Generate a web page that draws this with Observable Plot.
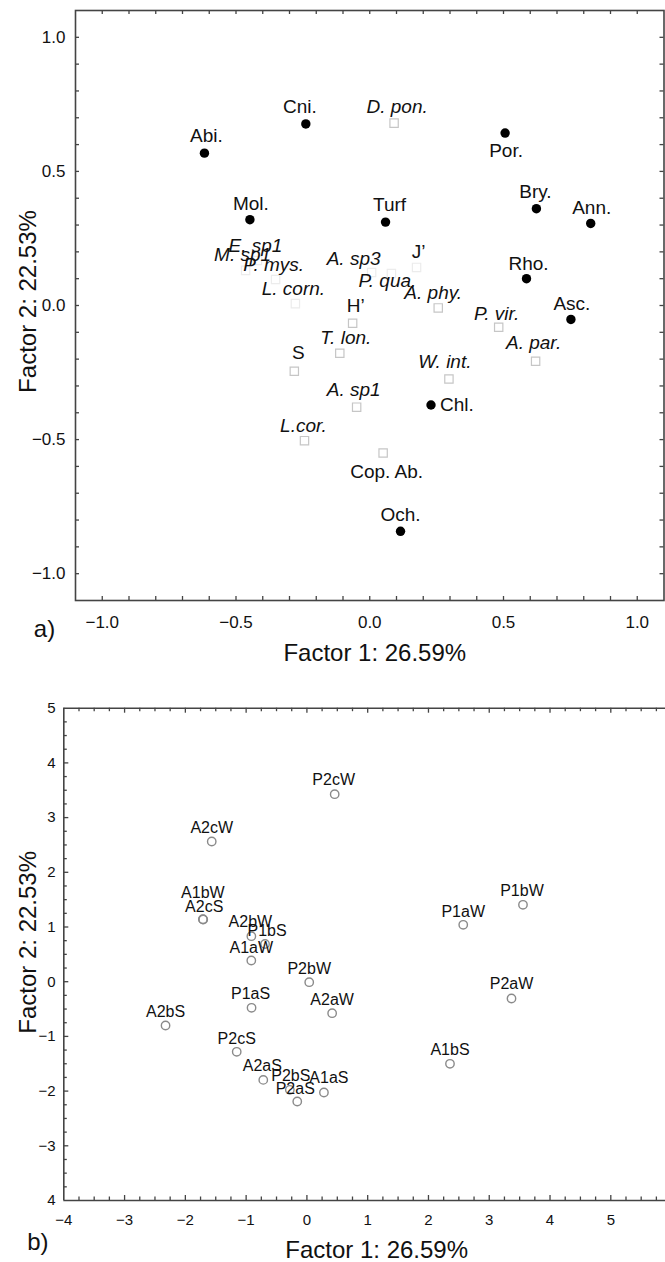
<!DOCTYPE html>
<html>
<head>
<meta charset="utf-8">
<script src="https://cdn.jsdelivr.net/npm/d3@7"></script>
<script src="https://cdn.jsdelivr.net/npm/@observablehq/plot@0.6"></script>
<style>
  html, body { margin: 0; padding: 0; background: #fff; overflow: hidden; }
  #page { position: relative; width: 665px; height: 1262px; background: #fff; }
  #pa, #pb { position: absolute; left: 0; }
  #pa { top: 0; }
  #pb { top: 665px; }
</style>
</head>
<body>
<div id="page"><div id="pa"></div><div id="pb"></div></div>
<script>
// ================= DATA =================
// Panel a) — group variables (filled dots)
const groupNames = ["Abi.", "Cni.", "Por.", "Bry.", "Ann.", "Mol.", "Turf", "Rho.", "Asc.", "Chl.", "Och."];
const groupF1 = [-0.618, -0.239, 0.506, 0.623, 0.826, -0.448, 0.059, 0.586, 0.752, 0.229, 0.115];
const groupF2 = [0.568, 0.677, 0.643, 0.361, 0.306, 0.320, 0.311, 0.100, -0.052, -0.371, -0.842];

// Panel a) — taxa / indices (hollow squares)
const taxaNames = ["D. pon.", "A. phy.", "P. vir.", "A. par.", "W. int.", "H\u2019", "T. lon.", "S", "A. sp1", "L.cor.", "Cop. Ab.",
                   "A. sp3", "P. qua.", "J\u2019", "E. sp1", "M. sp1", "P. mys.", "L. corn."];
const taxaF1 = [0.091, 0.256, 0.482, 0.620, 0.296, -0.064, -0.112, -0.282, -0.049, -0.244, 0.050,
                0.007, 0.081, 0.175, -0.420, -0.464, -0.352, -0.278];
const taxaF2 = [0.680, -0.009, -0.081, -0.208, -0.274, -0.066, -0.178, -0.245, -0.379, -0.504, -0.550,
                0.123, 0.119, 0.142, 0.168, 0.131, 0.097, 0.007];

// Panel b) — samples (hollow circles)
const sampleNames = ["P2cW", "A2cW", "A1bW", "A2cS", "A2bW", "P1bS", "A1aW", "P1aW", "P1bW", "P2bW", "P2aW",
                     "P1aS", "A2aW", "A2bS", "P2cS", "A1bS", "A2aS", "P2bS", "A1aS", "P2aS"];
const sampleF1 = [0.457, -1.566, -1.712, -1.706, -0.914, -0.689, -0.915, 2.572, 3.555, 0.038, 3.366,
                  -0.911, 0.415, -2.326, -1.155, 2.354, -0.718, -0.281, 0.280, -0.159];
const sampleF2 = [3.428, 2.563, 1.142, 1.137, 0.832, 0.689, 0.388, 1.040, 1.406, -0.009, -0.307,
                  -0.477, -0.576, -0.801, -1.282, -1.501, -1.795, -1.977, -2.026, -2.190];

// Tick values and labels
const ticksA = [-1, -0.5, 0, 0.5, 1];
const tickLabelsA = ["\u22121.0", "\u22120.5", "0.0", "0.5", "1.0"];
const xTicksB = [-4, -3, -2, -1, 0, 1, 2, 3, 4, 5];
const xTickLabelsB = ["\u22124", "\u22123", "\u22122", "\u22121", "0", "1", "2", "3", "4", "5"];
const yTicksB = [-4, -3, -2, -1, 0, 1, 2, 3, 4, 5];
const yTickLabelsB = ["4", "\u22123", "\u22122", "\u22121", "0", "1", "2", "3", "4", "5"];

const xTitle = "Factor 1: 26.59%";
const yTitle = "Factor 2: 22.53%";

// ================= LAYOUT (label offsets in px, styles — not data) =================
const groupLabelOff = [[2,-17],[-6,-17],[1,18],[-1,-17],[1,-16],[1,-16],[4,-17],[2,-15],[1,-16],[9,0],[0,-16]];
const taxaLabelOff = [[3,-16],[-5,-15],[-2,-13],[-2,-18],[-4,-17],[3,-17],[6,-15],[4,-18],[-3,-17],[-1,-15],[3.5,19],
                      [-18,-14],[-4,7],[2,-16],[-2,-15],[-3,-15],[-2,-15],[-2,-15]];
const faintTaxa = new Set(["A. sp3", "P. qua.", "J\u2019", "E. sp1", "M. sp1", "P. mys.", "L. corn."]);
const uprightTaxa = new Set(["H\u2019", "S", "Cop. Ab.", "J\u2019"]);
const sampleLabelOff = [[-1,-14],[0,-14],[0,-26],[1,-13],[-1,-14],[2,-13],[0,-12.5],[0,-13],[-1,-14],[0,-13.5],[0,-14.5],
                        [-1,-14],[0,-13.5],[0,-13.5],[0,-13],[0,-13.5],[-1,-14],[1,-14],[5,-15],[-2,-13]];

const FONT = "'Liberation Sans', Arial, Helvetica, sans-serif";
const INK = "#111";
const AXC = "#444";

const groups = groupNames.map((n, i) => ({name: n, f1: groupF1[i], f2: groupF2[i], off: groupLabelOff[i]}));
const taxa = taxaNames.map((n, i) => ({name: n, f1: taxaF1[i], f2: taxaF2[i], off: taxaLabelOff[i]}));
const samples = sampleNames.map((n, i) => ({name: n, f1: sampleF1[i], f2: sampleF2[i], off: sampleLabelOff[i]}));

const titleOpts = {text: d => d, textAnchor: "middle", lineAnchor: "middle", fontSize: 24, fill: INK};

// ================= PANEL A =================
(function () {
  const W = 665, H = 665, mT = 10, mB = 65, mL = 75, mR = 1.5;
  const fw = W - mL - mR, fh = H - mT - mB;
  const minor = d3.range(-10, 11).map(k => k / 10);
  const tl = 4;
  const labelMarks = [];
  taxa.forEach(d => labelMarks.push(Plot.text([d], {
    x: "f1", y: "f2", text: "name", dx: d.off[0], dy: d.off[1],
    fontStyle: uprightTaxa.has(d.name) ? "normal" : "italic", fontSize: 19, fill: INK
  })));
  groups.forEach(d => labelMarks.push(Plot.text([d], {
    x: "f1", y: "f2", text: "name", dx: d.off[0], dy: d.off[1],
    textAnchor: d.name === "Chl." ? "start" : "middle", fontSize: 19, fill: INK
  })));
  const svg = Plot.plot({
    width: W, height: H, marginTop: mT, marginBottom: mB, marginLeft: mL, marginRight: mR,
    x: {domain: [-1.1, 1.1]},
    y: {domain: [-1.1, 1.1]},
    style: {fontFamily: FONT, background: "#fff", color: INK, overflow: "visible"},
    marks: [
      Plot.ruleX(minor, {insetTop: fh - tl, stroke: AXC, strokeWidth: 1.3}),
      Plot.ruleX(minor, {insetBottom: fh - tl, stroke: AXC, strokeWidth: 1.3}),
      Plot.ruleY(minor, {insetRight: fw - tl, stroke: AXC, strokeWidth: 1.3}),
      Plot.ruleY(minor, {insetLeft: fw - tl, stroke: AXC, strokeWidth: 1.3}),
      Plot.frame({stroke: AXC, strokeWidth: 1.6}),
      Plot.axisX(ticksA, {anchor: "bottom", tickSize: 0, tickPadding: 15, fontSize: 17, label: null,
        tickFormat: d => tickLabelsA[ticksA.indexOf(d)]}),
      Plot.axisY(ticksA, {anchor: "left", tickSize: 0, tickPadding: 10, fontSize: 17, label: null,
        tickFormat: d => tickLabelsA[ticksA.indexOf(d)]}),
      Plot.dot(taxa, {x: "f1", y: "f2", symbol: "square", r: 4.7, fill: "none",
        stroke: d => faintTaxa.has(d.name) ? "#ececec" : "#c6c6c6", strokeWidth: 1.2}),
      Plot.dot(groups, {x: "f1", y: "f2", r: 4.7, fill: "#000", stroke: "none"}),
      ...labelMarks,
      Plot.text([xTitle], {...titleOpts, frameAnchor: "bottom", dx: 5, dy: 53}),
      Plot.text([yTitle], {...titleOpts, frameAnchor: "left", dx: -47, dy: -4, rotate: -90}),
      Plot.text(["a)"], {...titleOpts, frameAnchor: "bottom-left", dx: -31, dy: 29})
    ]
  });
  document.getElementById("pa").appendChild(svg);
})();

// ================= PANEL B =================
(function () {
  const W = 665, H = 597, mT = 42.7, mB = 62, mL = 63.3, mR = 0;
  const fw = W - mL - mR, fh = H - mT - mB;
  const xq = d3.range(-15, 24).map(k => k / 4);   // quarter-unit ticks
  const yq = d3.range(-15, 20).map(k => k / 4);
  const xMaj = xq.filter(v => Number.isInteger(v));
  const xMin = xq.filter(v => !Number.isInteger(v));
  const yMaj = yq.filter(v => Number.isInteger(v));
  const yMin = yq.filter(v => !Number.isInteger(v));
  const tMin = 3.5, tMaj = 5;
  const labelMarks = samples.map(d => Plot.text([d], {
    x: "f1", y: "f2", text: "name", dx: d.off[0], dy: d.off[1], fontSize: 16, fill: INK
  }));
  const svg = Plot.plot({
    width: W, height: H, marginTop: mT, marginBottom: mB, marginLeft: mL, marginRight: mR,
    x: {domain: [-4, 5.9]},
    y: {domain: [-4, 5]},
    style: {fontFamily: FONT, background: "#fff", color: INK, overflow: "visible"},
    marks: [
      Plot.ruleX(xMin, {insetTop: fh - tMin, stroke: AXC, strokeWidth: 1.3}),
      Plot.ruleX(xMaj, {insetTop: fh - tMaj, stroke: AXC, strokeWidth: 1.3}),
      Plot.ruleX(xMin, {insetBottom: fh - tMin, stroke: AXC, strokeWidth: 1.3}),
      Plot.ruleX(xMaj, {insetBottom: fh - tMaj, stroke: AXC, strokeWidth: 1.3}),
      Plot.ruleY(yMin, {insetRight: fw - tMin, stroke: AXC, strokeWidth: 1.3}),
      Plot.ruleY(yMaj, {insetRight: fw - tMaj, stroke: AXC, strokeWidth: 1.3}),
      Plot.ruleY([-4, 5], {stroke: AXC, strokeWidth: 1.6}),
      Plot.ruleX([-4], {stroke: AXC, strokeWidth: 1.6}),
      Plot.axisX(xTicksB, {anchor: "bottom", tickSize: 0, tickPadding: 13.5, fontSize: 15, label: null,
        tickFormat: d => xTickLabelsB[xTicksB.indexOf(d)]}),
      Plot.axisY(yTicksB, {anchor: "left", tickSize: 0, tickPadding: 8.3, fontSize: 15, label: null,
        tickFormat: d => yTickLabelsB[yTicksB.indexOf(d)]}),
      Plot.dot(samples, {x: "f1", y: "f2", r: 4.2, fill: "none", stroke: "#8a8a8a", strokeWidth: 1.4}),
      ...labelMarks,
      Plot.text([xTitle], {...titleOpts, frameAnchor: "bottom", dx: 12, dy: 50}),
      Plot.text([yTitle], {...titleOpts, frameAnchor: "left", dx: -35, dy: -12, rotate: -90}),
      Plot.text(["b)"], {...titleOpts, frameAnchor: "bottom-left", dx: -26, dy: 42})
    ]
  });
  document.getElementById("pb").appendChild(svg);
})();
</script>
</body>
</html>
